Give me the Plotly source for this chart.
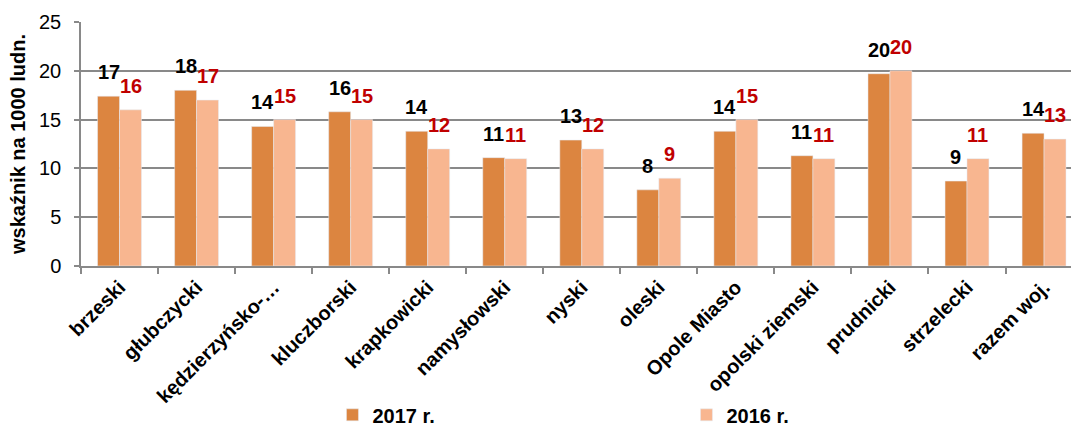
import plotly.graph_objects as go

# Powiaty (districts) and rate per 1000 inhabitants
categories = ["brzeski", "głubczycki", "kędzierzyńsko-…", "kluczborski", "krapkowicki",
              "namysłowski", "nyski", "oleski", "Opole Miasto", "opolski ziemski",
              "prudnicki", "strzelecki", "razem woj."]
values_2017 = [17.4, 18.0, 14.3, 15.8, 13.8, 11.1, 12.9, 7.8, 13.8, 11.3, 19.7, 8.7, 13.6]
values_2016 = [16.0, 17.0, 15.0, 15.0, 12.0, 11.0, 12.0, 9.0, 15.0, 11.0, 20.0, 11.0, 13.0]
y_ticks = [0, 5, 10, 15, 20, 25]

COL_2017 = "#DC8540"
COL_2016 = "#F8B690"
AXIS_COL = "#898989"
FONT = "Liberation Sans, Arial, sans-serif"

fig = go.Figure()
fig.add_trace(go.Bar(name="2017 r.", x=categories, y=values_2017, marker_color=COL_2017))
fig.add_trace(go.Bar(name="2016 r.", x=categories, y=values_2016, marker_color=COL_2016))

# value labels above each bar
annotations = []
for cat, v17, v16 in zip(categories, values_2017, values_2016):
    annotations.append(dict(x=cat, y=v17, text=f"{v17:.0f}", xshift=-11, yshift=11,
                            yanchor="bottom", showarrow=False,
                            font=dict(family=FONT, size=20, color="#000000", weight="bold")))
    annotations.append(dict(x=cat, y=v16, text=f"{v16:.0f}", xshift=11, yshift=11,
                            yanchor="bottom", showarrow=False,
                            font=dict(family=FONT, size=20, color="#C00000", weight="bold")))

fig.update_layout(
    width=1071, height=426,
    margin=dict(l=81, r=0, t=22, b=160, autoexpand=False),
    paper_bgcolor="white", plot_bgcolor="white",
    barmode="group", bargap=0.43, bargroupgap=0,
    font=dict(family=FONT, color="#000000"),
    annotations=annotations,
    showlegend=True,
    legend=dict(orientation="h", x=0.254, xanchor="left", y=-0.61, yanchor="middle",
                entrywidth=309, entrywidthmode="pixels", itemwidth=30,
                font=dict(family=FONT, size=20, color="#000000", weight="bold"),
                bgcolor="rgba(0,0,0,0)"),
)
fig.update_xaxes(
    range=[-0.5, 12.35], type="category",
    showline=True, linecolor=AXIS_COL, linewidth=1.5,
    ticks="outside", tickson="boundaries", ticklen=6, tickcolor=AXIS_COL, tickwidth=1.5,
    tickangle=-45,
    tickfont=dict(family=FONT, size=20, color="#000000", weight="bold"),
    showgrid=False,
)
fig.update_yaxes(
    range=[0, 25], tickvals=y_ticks,
    showline=True, linecolor=AXIS_COL, linewidth=1.5,
    ticks="outside", ticklen=5, tickcolor=AXIS_COL, tickwidth=1.5,
    ticklabelstandoff=9,
    showgrid=True, gridcolor=AXIS_COL, gridwidth=1.5,
    zeroline=False,
    tickfont=dict(family=FONT, size=20, color="#000000"),
    title=dict(text="wskaźnik na 1000 ludn.", standoff=8,
               font=dict(family=FONT, size=20, color="#000000", weight="bold")),
)

fig.write_html("out.html")
